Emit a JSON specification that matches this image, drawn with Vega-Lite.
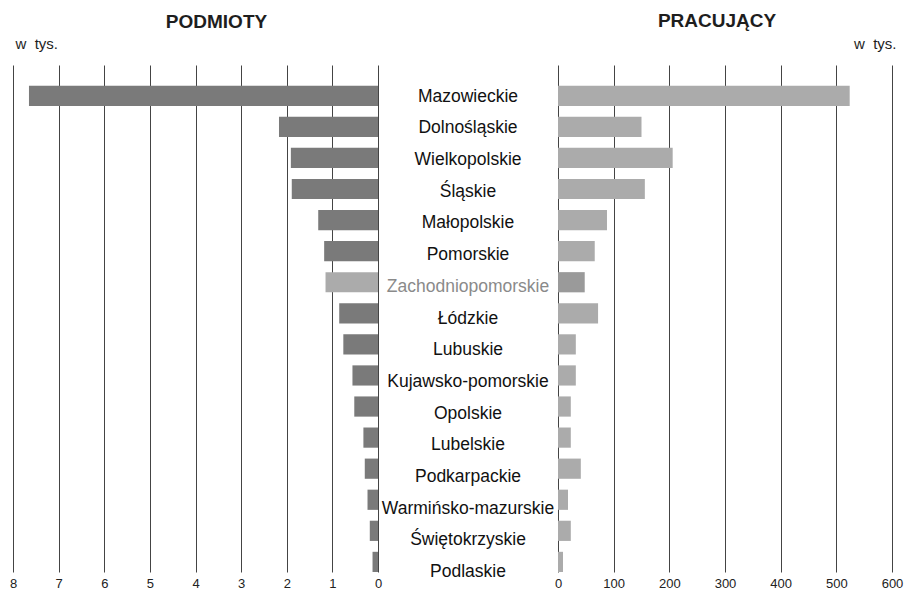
{
  "$schema": "https://vega.github.io/schema/vega-lite/v6.json",
  "background": "white",
  "padding": {"left": 9, "top": 12, "right": 5, "bottom": 0},
  "spacing": 0,
  "bounds": "flush",
  "config": {
    "view": {"stroke": null},
    "font": "Liberation Sans",
    "axis": {"labelFont": "Liberation Sans", "titleFont": "Liberation Sans"}
  },
  "data": {
    "values": [
      {"region": "Mazowieckie", "podmioty": 7.65, "pracujacy": 524},
      {"region": "Dolnośląskie", "podmioty": 2.17, "pracujacy": 150},
      {"region": "Wielkopolskie", "podmioty": 1.91, "pracujacy": 206},
      {"region": "Śląskie", "podmioty": 1.89, "pracujacy": 156},
      {"region": "Małopolskie", "podmioty": 1.31, "pracujacy": 88},
      {"region": "Pomorskie", "podmioty": 1.18, "pracujacy": 66},
      {"region": "Zachodniopomorskie", "podmioty": 1.15, "pracujacy": 48},
      {"region": "Łódzkie", "podmioty": 0.85, "pracujacy": 72},
      {"region": "Lubuskie", "podmioty": 0.76, "pracujacy": 32},
      {"region": "Kujawsko-pomorskie", "podmioty": 0.56, "pracujacy": 32},
      {"region": "Opolskie", "podmioty": 0.52, "pracujacy": 23},
      {"region": "Lubelskie", "podmioty": 0.32, "pracujacy": 23},
      {"region": "Podkarpackie", "podmioty": 0.29, "pracujacy": 41},
      {"region": "Warmińsko-mazurskie", "podmioty": 0.23, "pracujacy": 18},
      {"region": "Świętokrzyskie", "podmioty": 0.18, "pracujacy": 23},
      {"region": "Podlaskie", "podmioty": 0.12, "pracujacy": 9}
    ]
  },
  "hconcat": [
    {
      "width": 365,
      "height": 507,
      "title": {"text": "PODMIOTY", "fontSize": 19, "fontWeight": "bold", "color": "#1e1e1e", "anchor": "middle", "dx": 21, "offset": 4},
      "mark": {"type": "bar"},
      "encoding": {
        "y": {"field": "region", "type": "nominal", "sort": null,
              "scale": {"paddingInner": 0.35, "paddingOuter": 0.333, "align": 1},
              "axis": {"labels": false, "ticks": false, "domain": false, "grid": false,
                       "title": "w\u00a0\u00a0tys.", "titleAngle": 0, "titleFontSize": 15, "titleFontWeight": "normal",
                       "titleColor": "#1e1e1e", "titleAlign": "left", "titleBaseline": "alphabetic",
                       "titleX": 2, "titleY": -17}},
        "x": {"field": "podmioty", "type": "quantitative",
              "scale": {"domain": [0, 8], "reverse": true, "nice": false},
              "axis": {"values": [0, 1, 2, 3, 4, 5, 6, 7, 8], "title": null, "domain": false, "ticks": false,
                       "labelFlush": false, "labelOverlap": false,
                       "labelFontSize": 13, "labelColor": "#222", "labelPadding": 5,
                       "grid": true, "gridColor": "#444", "gridWidth": 1, "gridOpacity": 1}},
        "color": {"condition": {"test": "datum.region === 'Zachodniopomorskie'", "value": "#ababab"}, "value": "#7a7a7a"}
      }
    },
    {
      "width": 180,
      "height": 507,
      "mark": {"type": "text", "fontSize": 17.5, "baseline": "middle", "align": "center"},
      "encoding": {
        "y": {"field": "region", "type": "nominal", "sort": null,
              "scale": {"paddingInner": 0.35, "paddingOuter": 0.333, "align": 1},
              "axis": null},
        "text": {"field": "region", "type": "nominal"},
        "color": {"condition": {"test": "datum.region === 'Zachodniopomorskie'", "value": "#8a8a8a"}, "value": "#111111"}
      }
    },
    {
      "width": 334,
      "height": 507,
      "title": {"text": "PRACUJĄCY", "fontSize": 19, "fontWeight": "bold", "color": "#1e1e1e", "anchor": "middle", "dx": -8, "offset": 5},
      "mark": {"type": "bar"},
      "encoding": {
        "y": {"field": "region", "type": "nominal", "sort": null,
              "scale": {"paddingInner": 0.35, "paddingOuter": 0.333, "align": 1},
              "axis": {"orient": "right", "labels": false, "ticks": false, "domain": false, "grid": false,
                       "title": "w\u00a0\u00a0tys.", "titleAngle": 0, "titleFontSize": 15, "titleFontWeight": "normal",
                       "titleColor": "#1e1e1e", "titleAlign": "right", "titleBaseline": "alphabetic",
                       "titleX": 4, "titleY": -17}},
        "x": {"field": "pracujacy", "type": "quantitative",
              "scale": {"domain": [0, 600], "nice": false},
              "axis": {"values": [0, 100, 200, 300, 400, 500, 600], "title": null, "domain": false, "ticks": false,
                       "labelFlush": false, "labelOverlap": false,
                       "labelFontSize": 13, "labelColor": "#222", "labelPadding": 5,
                       "grid": true, "gridColor": "#444", "gridWidth": 1, "gridOpacity": 1}},
        "color": {"condition": {"test": "datum.region === 'Zachodniopomorskie'", "value": "#9a9a9a"}, "value": "#ababab"}
      }
    }
  ]
}
